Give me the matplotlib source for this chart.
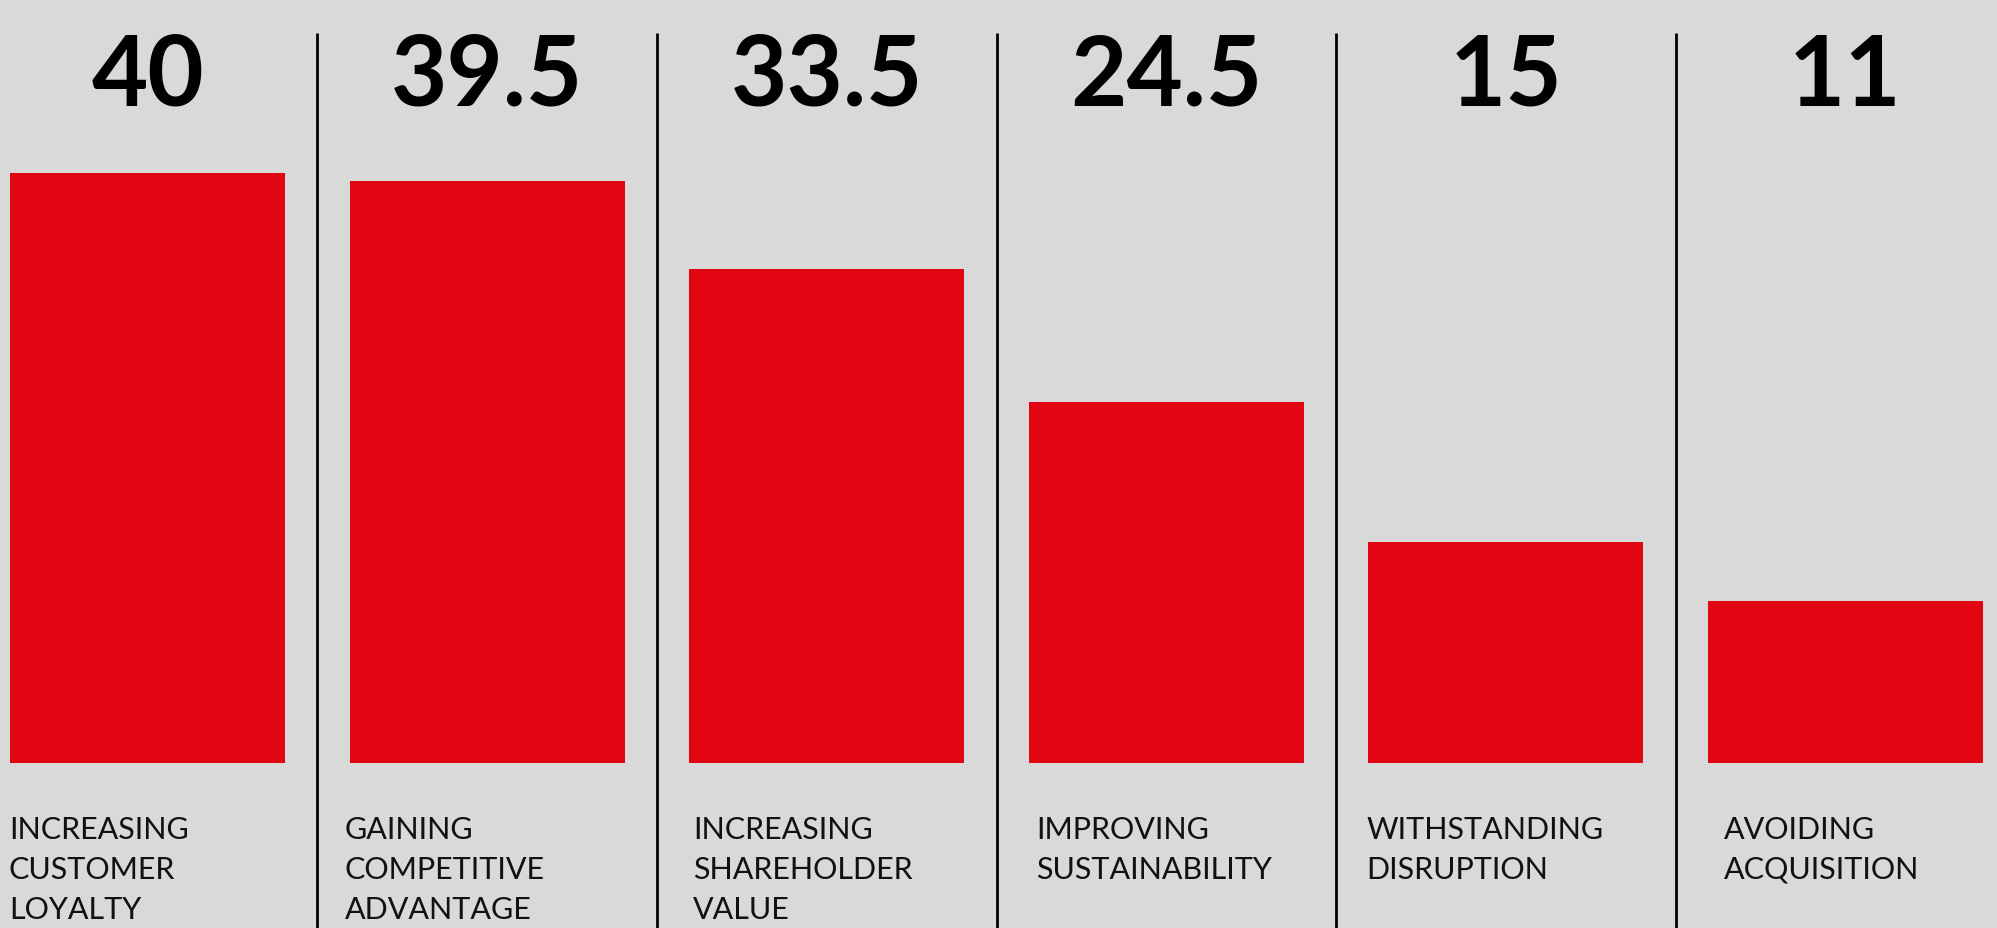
"""Bar panel of drivers ranked by share of respondents.

Writes ``out.png``: one red bar per driver, the value in large bold type
above it, the driver name in light capitals below, thin black rules
between the columns.
"""

from __future__ import annotations

import matplotlib

matplotlib.use("Agg")
import matplotlib.pyplot as plt  # noqa: E402

CATEGORIES = [
    "INCREASING\nCUSTOMER\nLOYALTY",
    "GAINING\nCOMPETITIVE\nADVANTAGE",
    "INCREASING\nSHAREHOLDER\nVALUE",
    "IMPROVING\nSUSTAINABILITY",
    "WITHSTANDING\nDISRUPTION",
    "AVOIDING\nACQUISITION",
]
VALUES = [40, 39.5, 33.5, 24.5, 15, 11]
VALUE_LABELS = ["40", "39.5", "33.5", "24.5", "15", "11"]

BG = "#d9d9d9"
RED = "#e20613"
FONT = "Lato"

W_PX, H_PX, DPI = 1997, 929, 100
# layout in pixels: column pitch, first bar centre, baseline of the bars
PITCH = 339.6
X0 = 147.5
BASE_Y = 764
PX_PER_UNIT = 14.74
BAR_WIDTH = 275 / PITCH

# small per-label horizontal nudges (px) for the captions
LABEL_NUDGE = [-1, -5, 4, 7, -2, 16]


def main() -> int:
    fig = plt.figure(figsize=(W_PX / DPI, H_PX / DPI), dpi=DPI, facecolor=BG)
    ax = fig.add_axes([0, 0, 1, 1])
    ax.set_facecolor(BG)

    x_lo = -X0 / PITCH
    x_hi = (W_PX - X0) / PITCH
    y_lo = -(H_PX - BASE_Y) / PX_PER_UNIT
    y_hi = BASE_Y / PX_PER_UNIT
    ax.set_xlim(x_lo, x_hi)
    ax.set_ylim(y_lo, y_hi)
    ax.axis("off")

    xs = list(range(len(VALUES)))
    ax.bar(xs, VALUES, width=BAR_WIDTH, color=RED, linewidth=0)

    # rules between columns
    rule_top = (BASE_Y - 34) / PX_PER_UNIT
    ax.vlines([x + 0.5 for x in xs[:-1]], y_lo, rule_top, color="black", linewidth=2)

    num_base = (BASE_Y - 106) / PX_PER_UNIT
    line_step = 40 / PX_PER_UNIT
    first_line = -(839 - BASE_Y) / PX_PER_UNIT
    for x, label, cat, nudge in zip(xs, VALUE_LABELS, CATEGORIES, LABEL_NUDGE):
        ax.text(x, num_base, label, ha="center", va="baseline",
                fontsize=70, fontweight="bold", family=FONT, color="black")
        left = x - BAR_WIDTH / 2 + nudge / PITCH
        for j, line in enumerate(cat.split("\n")):
            ax.text(left, first_line - j * line_step, line, ha="left", va="baseline",
                    fontsize=22, fontweight="normal", family=FONT, color="#111111")

    fig.savefig("out.png", dpi=DPI, facecolor=BG)
    return 0


if __name__ == "__main__":
    raise SystemExit(main())
